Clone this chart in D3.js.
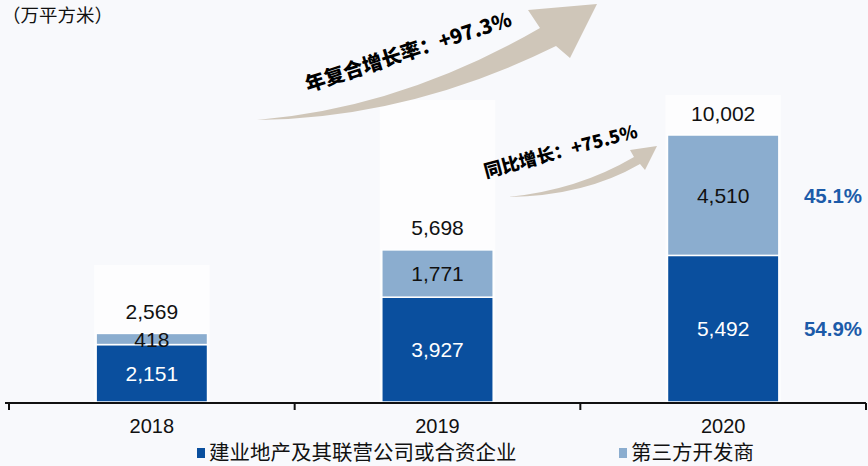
<!DOCTYPE html>
<html>
<head>
<meta charset="utf-8">
<script src="https://cdn.jsdelivr.net/npm/d3@7"></script>
<style>
  body { margin: 0; background: #f8f9fc; }
  svg { display: block; }
  text { font-family: "Liberation Sans", Arial, sans-serif; }
</style>
</head>
<body>
<div id="chart"></div>
<script>
// values
const years = ["2018", "2019", "2020"];
const ownProjects = [2151, 3927, 5492];     // 建业地产及其联营公司或合资企业
const thirdParty = [418, 1771, 4510];       // 第三方开发商
const totals = [2569, 5698, 10002];
const shareLabels = ["54.9%", "45.1%"];     // 2020 shares (own, third party)
const seriesNames = ["建业地产及其联营公司或合资企业", "第三方开发商"];
const colors = ["#0a4f9e", "#8badcf"];

const width = 868, height = 466;

const svg = d3.select("#chart").append("svg")
    .attr("width", width)
    .attr("height", height);

svg.append("rect")
    .attr("width", width)
    .attr("height", height)
    .attr("fill", "#f8f9fc");

const x = d3.scaleBand()
    .domain(years)
    .range([9, 866])
    .padding(0);

const y = d3.scaleLinear()
    .domain([0, 10002])
    .range([402, 135]);

const barW = x.bandwidth() * 0.39;
const barX = d => x(d) + (x.bandwidth() - barW) / 2;

const data = years.map((yr, i) => ({
    year: yr, own: ownProjects[i], third: thirdParty[i], total: totals[i]
}));

// faint white boxes behind the bars (label boxes of the original)
const boxTop = [265, 100, 95];
svg.append("g")
    .selectAll("rect")
    .data(data)
    .join("rect")
    .attr("x", d => barX(d.year) - 2)
    .attr("width", barW + 4)
    .attr("y", (d, i) => boxTop[i])
    .attr("height", (d, i) => 402 - boxTop[i])
    .attr("fill", "#fdfdfe");

// stacked bars
const bars = svg.append("g");
bars.selectAll(".own")
    .data(data)
    .join("rect")
    .attr("class", "own")
    .attr("x", d => barX(d.year))
    .attr("width", barW)
    .attr("y", d => y(d.own))
    .attr("height", d => y(0) - y(d.own))
    .attr("fill", colors[0])
    .attr("stroke", "#ffffff")
    .attr("stroke-width", 1.5);

bars.selectAll(".third")
    .data(data)
    .join("rect")
    .attr("class", "third")
    .attr("x", d => barX(d.year))
    .attr("width", barW)
    .attr("y", d => y(d.own + d.third))
    .attr("height", d => y(d.own) - y(d.own + d.third))
    .attr("fill", colors[1])
    .attr("stroke", "#ffffff")
    .attr("stroke-width", 1.5);

const fmt = d3.format(",");

// value labels
const labels = svg.append("g")
    .attr("text-anchor", "middle")
    .attr("font-size", 21);

labels.selectAll(".own-label")
    .data(data)
    .join("text")
    .attr("x", d => x(d.year) + x.bandwidth() / 2)
    .attr("y", d => (y(0) + y(d.own)) / 2)
    .attr("dy", "0.36em")
    .attr("fill", "#ffffff")
    .text(d => fmt(d.own));

labels.selectAll(".third-label")
    .data(data)
    .join("text")
    .attr("x", d => x(d.year) + x.bandwidth() / 2)
    .attr("y", d => (y(d.own) + y(d.own + d.third)) / 2)
    .attr("dy", "0.36em")
    .attr("fill", "#111")
    .text(d => fmt(d.third));

labels.selectAll(".total-label")
    .data(data)
    .join("text")
    .attr("x", d => x(d.year) + x.bandwidth() / 2)
    .attr("y", d => y(d.total) - 22)
    .attr("dy", "0.36em")
    .attr("fill", "#111")
    .text(d => fmt(d.total));

// 2020 share labels on the right
const last = data[data.length - 1];
svg.append("g")
    .attr("text-anchor", "middle")
    .attr("font-size", 20.5)
    .attr("font-weight", "bold")
    .attr("fill", "#1c5ba9")
    .selectAll("text")
    .data([
        { v: shareLabels[0], y: (y(0) + y(last.own)) / 2 },
        { v: shareLabels[1], y: (y(last.own) + y(last.total)) / 2 }
    ])
    .join("text")
    .attr("x", 833)
    .attr("y", d => d.y)
    .attr("dy", "0.36em")
    .text(d => d.v);

// x axis: baseline with ticks at band edges
const axisY = 403;
svg.append("line")
    .attr("x1", 5).attr("x2", 866)
    .attr("y1", axisY).attr("y2", axisY)
    .attr("stroke", "#111")
    .attr("stroke-width", 2);

const edges = years.map(d => x(d)).concat([x.range()[1]]);
svg.append("g")
    .selectAll("line")
    .data(edges)
    .join("line")
    .attr("x1", d => d).attr("x2", d => d)
    .attr("y1", axisY).attr("y2", axisY + 7)
    .attr("stroke", "#111")
    .attr("stroke-width", 2);

svg.append("g")
    .attr("text-anchor", "middle")
    .attr("font-size", 20)
    .selectAll("text")
    .data(years)
    .join("text")
    .attr("x", d => x(d) + x.bandwidth() / 2)
    .attr("y", 433)
    .style("font-family", "'Liberation Sans Narrow', 'Liberation Sans', Arial, sans-serif")
    .attr("fill", "#111")
    .text(d => d);

// legend
const legendX = [197, 619];
const legend = svg.append("g")
    .selectAll("g")
    .data(seriesNames)
    .join("g")
    .attr("transform", (d, i) => `translate(${legendX[i]},453)`);

legend.append("rect")
    .attr("x", 0).attr("y", -5)
    .attr("width", 8).attr("height", 10)
    .attr("fill", (d, i) => colors[i]);

legend.append("text")
    .attr("x", 12)
    .attr("dy", "0.36em")
    .attr("font-size", 20.5)
    .style("font-family", "'Noto Sans CJK SC', sans-serif")
    .attr("fill", "#111")
    .text(d => d);

// unit
svg.append("text")
    .attr("x", 2)
    .attr("y", 22)
    .attr("font-size", 18.5)
    .style("font-family", "'Noto Sans CJK SC', sans-serif")
    .attr("fill", "#111")
    .text("（万平方米）");

// growth arrows
const arrowColor = "#cfc6b9";
svg.append("path")
    .attr("d", "M257,120 Q402,108 540,28 L528,10 L597,4 L570,58 L556,46 Q410,118 257,120 Z")
    .attr("fill", arrowColor);

svg.append("path")
    .attr("d", "M508,197 Q578,190 634,157 L630,150 L657,146 L645,170 L640,164 Q585,196 508,197 Z")
    .attr("fill", arrowColor);

svg.append("text")
    .attr("transform", "translate(308,92) rotate(-18)")
    .attr("font-size", 20)
    .attr("font-weight", "900")
    .style("font-family", "'Noto Sans CJK SC', sans-serif")
    .attr("fill", "#000")
    .text("年复合增长率：+97.3%");

svg.append("text")
    .attr("transform", "translate(486,178) rotate(-15)")
    .attr("font-size", 18)
    .attr("font-weight", "900")
    .style("font-family", "'Noto Sans CJK SC', sans-serif")
    .attr("fill", "#000")
    .text("同比增长：+75.5%");
</script>
</body>
</html>
